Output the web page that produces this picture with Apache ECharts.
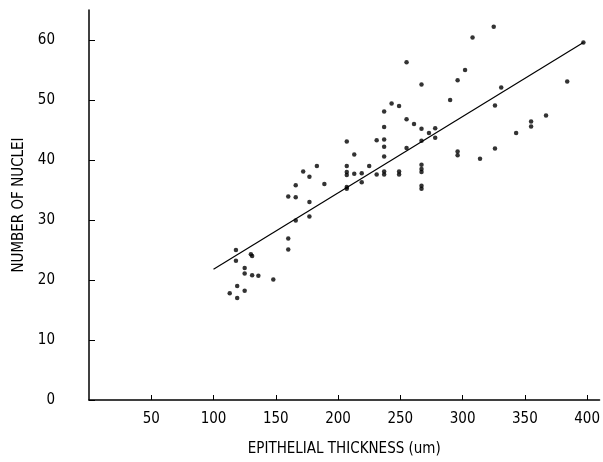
<!DOCTYPE html>
<html>
<head>
<meta charset="utf-8">
<script src="https://cdn.jsdelivr.net/npm/echarts@6/dist/echarts.min.js"></script>
<style>
  html, body { margin: 0; padding: 0; background: #fff; }
  #chart { width: 603px; height: 462px; }
</style>
</head>
<body>
<div id="chart"></div>
<script>
var chart = echarts.init(document.querySelector('#chart'));

// data: [thickness (um), number of nuclei]
const thickness = [118, 118, 130, 131, 125, 125, 131, 136, 148, 119, 113, 125, 119,
  160, 166, 160, 160, 166, 166, 177, 177,
  172, 177, 183, 189, 207, 207, 207, 207, 207, 207, 213, 213, 219, 219, 225,
  231, 231, 237, 237, 237, 237, 237, 237, 237, 243, 249, 249, 249,
  255, 255, 255, 261, 267, 267, 267, 267, 267, 267, 267, 267, 273, 278, 278,
  290, 296, 296, 296, 302, 308, 314, 325, 326, 326, 331, 343, 355, 355, 367, 384, 397];
const nuclei = [25, 23.2, 24.3, 24.0, 22, 21.1, 20.8, 20.7, 20.1, 19, 17.8, 18.2, 17,
  33.9, 33.8, 26.9, 25.1, 35.8, 29.9, 33, 30.6,
  38.1, 37.2, 39, 36, 43.1, 39, 38, 37.5, 35.5, 35.2, 40.9, 37.7, 37.8, 36.3, 39,
  43.3, 37.6, 48.1, 45.5, 43.4, 42.2, 40.6, 38.1, 37.6, 49.4, 49, 38.1, 37.6,
  56.3, 46.8, 42, 46, 52.6, 45.2, 43.2, 39.2, 38.5, 38, 35.7, 35.2, 44.5, 45.3, 43.7,
  50, 53.3, 41.4, 40.8, 55, 60.4, 40.2, 62.2, 49.1, 41.9, 52.1, 44.5, 46.4, 45.6, 47.4, 53.1, 59.6];

// fitted line end points
const fitX = [100, 397];
const fitY = [21.8, 59.6];

const xTicks = [50, 100, 150, 200, 250, 300, 350, 400];
const yTicks = [0, 10, 20, 30, 40, 50, 60];

const font = 'DejaVu Sans Condensed';

const points = thickness.map(function (x, i) { return [x, nuclei[i]]; });
const fitLine = fitX.map(function (x, i) { return [x, fitY[i]]; });

const options = {
  animation: false,
  backgroundColor: '#fff',
  grid: { left: 89, right: 3, top: 10, bottom: 61 },
  xAxis: {
    type: 'value',
    min: 0,
    max: 410,
    interval: 50,
    name: 'EPITHELIAL THICKNESS (um)',
    nameLocation: 'middle',
    nameGap: 42,
    nameTextStyle: { color: '#000', fontFamily: font, fontSize: 15 },
    axisLine: { lineStyle: { color: '#000', width: 1.5 } },
    axisTick: { inside: true, length: 5, lineStyle: { color: '#000' } },
    axisLabel: {
      color: '#000', fontFamily: font, fontSize: 15, margin: 12,
      showMinLabel: false, showMaxLabel: false,
      formatter: function (v) { return xTicks.indexOf(v) >= 0 ? String(v) : ''; }
    },
    splitLine: { show: false }
  },
  yAxis: {
    type: 'value',
    min: 0,
    max: 65,
    interval: 10,
    name: 'NUMBER OF NUCLEI',
    nameLocation: 'middle',
    nameGap: 60,
    nameRotate: 90,
    nameTextStyle: { color: '#000', fontFamily: font, fontSize: 15 },
    axisLine: { show: true, lineStyle: { color: '#000', width: 1.5 } },
    axisTick: { show: true, inside: true, length: 6, lineStyle: { color: '#000' } },
    axisLabel: {
      color: '#000', fontFamily: font, fontSize: 15, margin: 34,
      showMaxLabel: false,
      formatter: function (v) { return yTicks.indexOf(v) >= 0 ? String(v) : ''; }
    },
    splitLine: { show: false }
  },
  series: [{
    type: 'line',
    data: fitLine,
    showSymbol: false,
    lineStyle: { color: '#000', width: 1.2 },
    z: 1
  }, {
    type: 'scatter',
    data: points,
    symbol: 'circle',
    symbolSize: 4.5,
    itemStyle: { color: '#000' },
    z: 2
  }]
};
chart.setOption(options);
</script>
</body>
</html>
